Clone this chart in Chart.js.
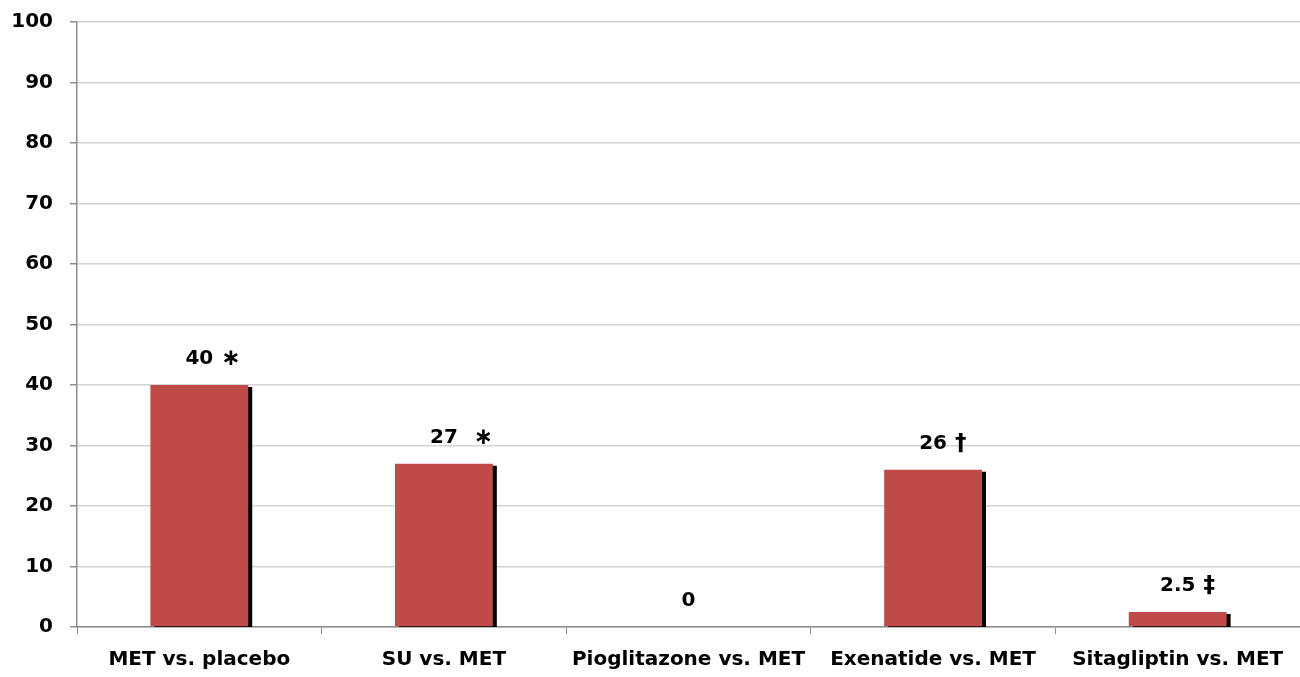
<!DOCTYPE html>
<html>
<head>
<meta charset="utf-8">
<script src="https://cdn.jsdelivr.net/npm/chart.js@4/dist/chart.umd.min.js"></script>
<style>
  html, body { margin: 0; padding: 0; background: #ffffff; }
  #wrap { width: 1300px; height: 677px; position: relative; }
</style>
</head>
<body>
<div id="wrap"><canvas id="c" width="1300" height="677"></canvas></div>
<script>
const categories = ['MET vs. placebo', 'SU vs. MET', 'Pioglitazone vs. MET', 'Exenatide vs. MET', 'Sitagliptin vs. MET'];
const values = [40, 27, 0, 26, 2.5];
const valueMarks = [' \u2217', '  \u2217', '', ' \u2020', ' \u2021'];
const yTicks = [0, 10, 20, 30, 40, 50, 60, 70, 80, 90, 100];

const FONT = '"DejaVu Sans", sans-serif';

// Hard black drop shadow behind each bar
const barShadow = {
  id: 'barShadow',
  beforeDatasetsDraw(chart) {
    const ctx = chart.ctx;
    ctx.save();
    ctx.shadowColor = '#000000';
    ctx.shadowOffsetX = 4;
    ctx.shadowOffsetY = 2;
    ctx.shadowBlur = 0;
  },
  afterDatasetsDraw(chart) {
    chart.ctx.restore();
  }
};

// Value labels above each bar, number centred with its significance mark appended
const valueLabels = {
  id: 'valueLabels',
  afterDraw(chart) {
    const ctx = chart.ctx;
    const meta = chart.getDatasetMeta(0);
    ctx.save();
    ctx.fillStyle = '#000000';
    ctx.textBaseline = 'middle';
    meta.data.forEach((bar, i) => {
      const num = String(values[i]);
      const y = bar.y - 26;
      ctx.font = 'bold 20px ' + FONT;
      ctx.textAlign = 'center';
      ctx.fillText(num, bar.x, y);
      const w = ctx.measureText(num).width;
      if (valueMarks[i]) {
        ctx.textAlign = 'left';
        ctx.font = 'bold 23px ' + FONT;
        ctx.fillText(valueMarks[i], bar.x + w / 2, y);
      }
    });
    ctx.restore();
  }
};

new Chart(document.getElementById('c'), {
  type: 'bar',
  data: {
    labels: categories,
    datasets: [{
      data: values,
      backgroundColor: '#be4b48',
      borderWidth: 0,
      categoryPercentage: 1.0,
      barPercentage: 0.4
    }]
  },
  options: {
    responsive: false,
    animation: false,
    layout: { padding: { top: 22, right: 0, left: 0, bottom: 0 } },
    plugins: {
      legend: { display: false },
      tooltip: { enabled: false }
    },
    scales: {
      x: {
        grid: {
          display: true,
          offset: true,
          drawOnChartArea: false,
          drawTicks: true,
          tickLength: 7,
          tickColor: '#8c8c8c'
        },
        border: { display: true, color: '#8c8c8c', width: 1.5 },
        ticks: {
          color: '#000000',
          font: { family: FONT, size: 20, weight: 'bold' },
          padding: 14,
          maxRotation: 0,
          autoSkip: false
        },
        afterFit(scale) { scale.height = 50; scale.paddingLeft = 0; scale.paddingRight = 0; }
      },
      y: {
        min: 0,
        max: 100,
        afterBuildTicks(scale) { scale.ticks = yTicks.map(v => ({ value: v })); },
        grid: {
          color: '#d4d4d4',
          lineWidth: 1.5,
          drawTicks: true,
          tickLength: 7,
          tickColor: '#8c8c8c'
        },
        border: { display: true, color: '#8c8c8c', width: 1.5 },
        ticks: {
          color: '#000000',
          font: { family: FONT, size: 20, weight: 'bold' },
          padding: 17
        },
        afterFit(scale) { scale.width = 77; scale.paddingTop = 0; scale.paddingBottom = 0; }
      }
    }
  },
  plugins: [barShadow, valueLabels]
});
</script>
</body>
</html>
